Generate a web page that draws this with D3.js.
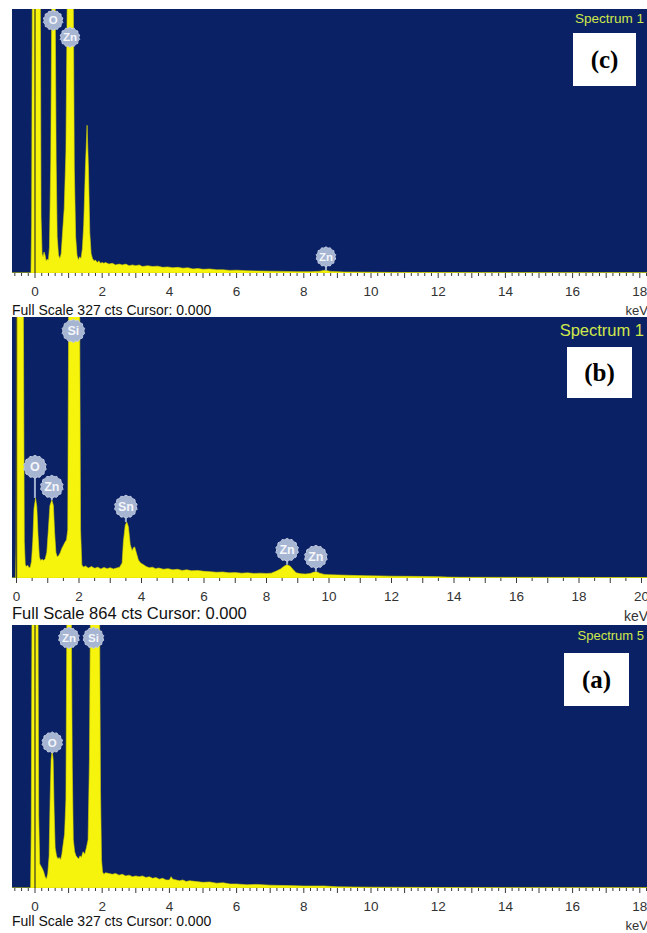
<!DOCTYPE html>
<html>
<head>
<meta charset="utf-8">
<script src="https://cdn.jsdelivr.net/npm/d3@7"></script>
<style>
  html, body { margin: 0; padding: 0; background: #ffffff; }
  svg { display: block; }
</style>
</head>
<body>
<svg id="chart" width="647" height="933"></svg>
<script>
// ---------- EDS spectra: [energy keV, counts] ----------
const spectrumC = [
  [-0.70,0],[-0.12,0],[-0.10,60],[-0.08,400],[0.16,400],[0.18,70],[0.21,24],[0.24,20],[0.27,26],[0.30,22],
  [0.33,15],[0.36,17],[0.40,16],[0.43,32],[0.47,140],[0.50,400],[0.60,400],[0.63,140],[0.66,45],[0.70,22],
  [0.74,18],[0.78,24],[0.82,50],[0.87,80],[0.92,150],[0.96,400],[1.14,400],[1.17,130],[1.21,45],[1.25,22],
  [1.29,16],[1.33,20],[1.37,18],[1.41,30],[1.45,60],[1.50,130],[1.55,183],[1.59,130],[1.63,50],[1.67,24],
  [1.71,18],[1.76,15],[1.80,16],[1.85,13],[1.90,15],[1.95,12],[2.00,13],[2.05,12],[2.10,13],[2.20,11],
  [2.30,12],[2.40,10],[2.50,11],[2.60,10],[2.70,11],[2.80,9],[2.90,10],[3.00,9],[3.10,10],[3.20,8],
  [3.35,9],[3.50,8],[3.65,8.5],[3.80,7],[3.95,7.5],[4.10,6.5],[4.25,7],[4.40,6],[4.55,6.5],[4.70,5],
  [4.85,5.5],[5.00,4.5],[5.20,5],[5.40,4],[5.60,4],[5.80,3.2],[6.00,3.5],[6.30,2.8],[6.60,2.5],[7.00,2.2],
  [7.40,2],[7.80,1.6],[8.20,1.6],[8.45,2],[8.63,3.5],[8.80,2],[9.20,1.2],[9.80,1],[10.5,0.7],[12.0,0.5],
  [14.0,0.4],[16.0,0.3],[18.5,0.3]
];

const spectrumB = [
  [-0.20,0],[-0.03,0],[-0.01,120],[0.01,900],[0.22,900],[0.25,120],[0.28,45],[0.32,38],[0.36,42],[0.40,34],
  [0.44,36],[0.48,55],[0.52,120],[0.56,230],[0.61,265],[0.65,235],[0.69,140],[0.73,70],[0.77,58],[0.82,62],
  [0.87,58],[0.92,64],[0.97,85],[1.02,160],[1.07,240],[1.13,258],[1.18,240],[1.22,150],[1.26,85],[1.30,70],
  [1.35,74],[1.40,84],[1.45,98],[1.50,108],[1.55,118],[1.60,126],[1.64,160],[1.67,900],[2.02,900],[2.05,160],
  [2.09,43],[2.15,36],[2.20,40],[2.30,33],[2.40,38],[2.50,32],[2.60,36],[2.70,30],[2.80,35],[2.90,31],
  [3.00,34],[3.10,30],[3.20,33],[3.30,36],[3.38,50],[3.42,120],[3.48,175],[3.53,185],[3.58,170],[3.64,110],
  [3.70,90],[3.74,100],[3.78,103],[3.83,85],[3.90,60],[3.97,50],[4.05,45],[4.15,38],[4.25,34],[4.35,36],
  [4.45,31],[4.55,33],[4.70,29],[4.85,31],[5.00,27],[5.15,29],[5.30,25],[5.45,27],[5.60,24],[5.80,25],
  [6.00,22],[6.20,21],[6.40,19],[6.60,20],[6.80,17],[7.00,18],[7.20,16],[7.40,17],[7.60,15],[7.80,16],
  [8.00,15],[8.15,16],[8.30,22],[8.45,30],[8.55,38],[8.65,44],[8.75,40],[8.85,28],[8.95,17],[9.10,14],
  [9.25,13],[9.40,15],[9.50,19],[9.60,21],[9.70,16],[9.85,12],[10.0,11],[10.3,10],[10.6,9],[10.9,8],
  [11.2,7.5],[11.6,7],[12.0,6],[12.5,5.5],[13.0,5],[13.5,4.5],[13.8,3],[14.2,2.2],[16.0,2],[18.0,1.8],
  [20.3,1.5]
];

const spectrumA = [
  [-0.70,0],[-0.13,0],[-0.11,80],[-0.09,400],[0.09,400],[0.11,90],[0.14,30],[0.18,27],[0.22,24],[0.26,20],
  [0.30,14],[0.34,11],[0.38,18],[0.42,40],[0.45,110],[0.48,160],[0.51,171],[0.54,160],[0.57,95],[0.60,50],
  [0.64,40],[0.68,36],[0.72,38],[0.76,35],[0.80,42],[0.84,55],[0.88,67],[0.92,110],[0.95,400],[1.08,400],
  [1.11,150],[1.14,60],[1.18,45],[1.22,40],[1.26,38],[1.30,36],[1.34,40],[1.38,38],[1.43,45],[1.48,42],
  [1.53,50],[1.58,60],[1.62,160],[1.65,400],[1.92,400],[1.95,120],[1.98,35],[2.01,20],[2.05,17],[2.10,19],
  [2.20,18],[2.30,17],[2.40,18],[2.50,16],[2.60,17],[2.70,15],[2.80,16],[2.90,14],[3.00,15],[3.10,14],
  [3.20,15],[3.30,13],[3.40,14],[3.50,12],[3.60,13],[3.70,11],[3.80,12],[3.90,10],[4.00,10],[4.05,14],
  [4.10,11],[4.20,10],[4.30,9],[4.40,10],[4.50,8],[4.60,9],[4.80,8],[5.00,7],[5.20,7.5],[5.40,6],
  [5.60,6.5],[5.80,5],[6.00,5],[6.30,4],[6.60,4.5],[7.00,3.5],[7.50,3],[8.00,2.5],[8.60,2.5],[9.00,1.5],
  [10.0,1],[12.0,0.6],[14.0,0.4],[18.5,0.3]
];

// Element markers: symbol, energy (keV), marker level (counts), peak-top level (counts)
const peaksC = [["O",0.54,313,330],["Zn",1.04,292,330],["Zn",8.66,20,3]];
const peaksB = [["Si",1.82,818,900],["O",0.59,368,265],["Zn",1.13,302,258],["Sn",3.50,236,185],["Zn",8.66,93,44],["Zn",9.58,70,21]];
const peaksA = [["Zn",1.01,311,400],["Si",1.74,311,400],["O",0.515,181,171]];

// Axis tick labels (keV)
const ticksC = [0,2,4,6,8,10,12,14,16,18];
const ticksB = [0,2,4,6,8,10,12,14,16,18,20];
const ticksA = [0,2,4,6,8,10,12,14,16,18];

const fullScaleC = 327, fullScaleB = 864, fullScaleA = 327;
const titlesCBA = ["Spectrum 1", "Spectrum 1", "Spectrum 5"];
const tagsCBA = ["(c)", "(b)", "(a)"];

// ---------- layout ----------
const NAVY = "#0b2166";
const YELLOW = "#f6f30c";
const W = 647;

const panels = [
  { data: spectrumC, peaks: peaksC, ticks: ticksC, fullScale: fullScaleC, title: titlesCBA[0], tag: tagsCBA[0],
    top: 9, bottom: 273, zeroX: 35, pxPerKeV: 33.6, maxKeV: 18, tickFrom: -0.6, tickTo: 18.2, minor: 0.2,
    tickLabelY: 296, tickFont: 13.5, fsY: 315, fsFont: 14, kevY: 315, kevFont: 13,
    titleY: 23, titleFont: 13.5, box: [573, 33, 63, 53], bubbleR: 10, bubbleFont: 11.5 },
  { data: spectrumB, peaks: peaksB, ticks: ticksB, fullScale: fullScaleB, title: titlesCBA[1], tag: tagsCBA[1],
    top: 317, bottom: 578, zeroX: 16.5, pxPerKeV: 31.25, maxKeV: 20, tickFrom: 0, tickTo: 20.5, minor: 0.5,
    tickLabelY: 601, tickFont: 13.5, fsY: 619, fsFont: 16.5, kevY: 621, kevFont: 14,
    titleY: 336, titleFont: 16.5, box: [567, 347, 65, 51], bubbleR: 11.5, bubbleFont: 12.5 },
  { data: spectrumA, peaks: peaksA, ticks: ticksA, fullScale: fullScaleA, title: titlesCBA[2], tag: tagsCBA[2],
    top: 625, bottom: 888, zeroX: 35, pxPerKeV: 33.6, maxKeV: 18, tickFrom: -0.6, tickTo: 18.2, minor: 0.2,
    tickLabelY: 911, tickFont: 13.5, fsY: 926, fsFont: 14, kevY: 930, kevFont: 13,
    titleY: 640, titleFont: 13, box: [564, 653, 65, 53], bubbleR: 10.5, bubbleFont: 11.5 }
];

const svg = d3.select("#chart");
const defs = svg.append("defs");

// serrated marker outline
function bubblePath(r) {
  const n = 28;
  const pts = d3.range(n).map(i => [ (i / n) * 2 * Math.PI, i % 2 ? r - 1.1 : r ]);
  return d3.lineRadial().angle(d => d[0]).radius(d => d[1]).curve(d3.curveCardinalClosed)(pts);
}

panels.forEach((p, i) => {
  const g = svg.append("g");
  const x = d3.scaleLinear().domain([0, p.maxKeV]).range([p.zeroX, p.zeroX + p.maxKeV * p.pxPerKeV]);
  const y = d3.scaleLinear().domain([0, p.fullScale]).range([p.bottom, p.top]);

  // plot area
  g.append("rect").attr("x", 12).attr("y", p.top).attr("width", W - 12).attr("height", p.bottom - p.top)
    .attr("fill", NAVY);

  const clipId = "clip" + i;
  defs.append("clipPath").attr("id", clipId).append("rect")
    .attr("x", 12).attr("y", p.top).attr("width", W - 12).attr("height", p.bottom - p.top);

  const plot = g.append("g").attr("clip-path", `url(#${clipId})`);

  // spectrum
  const area = d3.area().x(d => x(d[0])).y0(y(0)).y1(d => y(Math.min(d[1], p.fullScale * 1.05)));
  plot.append("path").datum(p.data).attr("d", area).attr("fill", YELLOW)
    .attr("stroke", "#d9d600").attr("stroke-width", 0.6);

  // cursor at 0.000 keV
  plot.append("line").attr("x1", x(0)).attr("x2", x(0)).attr("y1", p.top).attr("y2", p.bottom)
    .attr("stroke", "#56561c").attr("stroke-width", 1.4);

  // element markers
  p.peaks.forEach(([sym, e, lvl, tip]) => {
    const cx = x(e), cy = y(lvl);
    const tipY = y(Math.min(tip, p.fullScale));
    if (tipY > cy + p.bubbleR) {
      plot.append("line").attr("x1", cx).attr("x2", cx).attr("y1", cy).attr("y2", tipY)
        .attr("stroke", "#9fb0d0").attr("stroke-width", 2);
    }
    const b = plot.append("g").attr("transform", `translate(${cx},${cy})`);
    b.append("path").attr("d", bubblePath(p.bubbleR)).attr("fill", "#a6b5d2")
      .attr("stroke", "#c3cde2").attr("stroke-width", 1);
    b.append("text").attr("text-anchor", "middle").attr("dy", "0.36em")
      .attr("font-family", "Arial, 'Liberation Sans', sans-serif").attr("font-size", p.bubbleFont)
      .attr("font-weight", "bold").attr("fill", "#f4f6fb").text(sym);
  });

  // spectrum title
  g.append("text").attr("x", W - 3).attr("y", p.titleY).attr("text-anchor", "end")
    .attr("font-family", "Arial, 'Liberation Sans', sans-serif").attr("font-size", p.titleFont)
    .attr("fill", "#cfe84a").text(p.title);

  // panel tag
  const [bx, by, bw, bh] = p.box;
  g.append("rect").attr("x", bx).attr("y", by).attr("width", bw).attr("height", bh).attr("fill", "#ffffff");
  g.append("text").attr("x", bx + bw / 2).attr("y", by + bh / 2).attr("dy", "0.33em").attr("text-anchor", "middle")
    .attr("font-family", "'Liberation Serif', 'Times New Roman', serif").attr("font-weight", "bold")
    .attr("font-size", 25).attr("fill", "#000").text(p.tag);

  // energy axis
  const ax = g.append("g");
  d3.range(Math.round(p.tickFrom / p.minor), Math.round(p.tickTo / p.minor) + 1).forEach(k => {
    const v = k * p.minor;
    const major = Math.abs(v - Math.round(v)) < 1e-6;
    ax.append("line").attr("x1", x(v)).attr("x2", x(v)).attr("y1", p.bottom).attr("y2", p.bottom + (major ? 5 : 3))
      .attr("stroke", "#3a3a3a").attr("stroke-width", 1);
  });
  p.ticks.forEach(t => {
    ax.append("text").attr("x", x(t)).attr("y", p.tickLabelY).attr("text-anchor", "middle")
      .attr("font-family", "Arial, 'Liberation Sans', sans-serif").attr("font-size", p.tickFont)
      .attr("fill", "#333").text(t);
  });
  ax.append("text").attr("x", W + 1).attr("y", p.kevY).attr("text-anchor", "end")
    .attr("font-family", "Arial, 'Liberation Sans', sans-serif").attr("font-size", p.kevFont)
    .attr("fill", "#333").text("keV");
  ax.append("text").attr("x", 12).attr("y", p.fsY)
    .attr("font-family", "Arial, 'Liberation Sans', sans-serif").attr("font-size", p.fsFont)
    .attr("fill", "#111").text(`Full Scale ${p.fullScale} cts Cursor: 0.000`);
});
</script>
</body>
</html>
